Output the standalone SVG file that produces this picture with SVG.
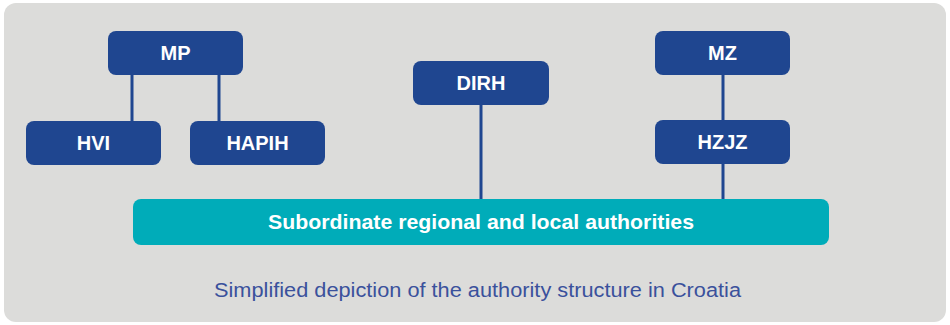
<svg xmlns="http://www.w3.org/2000/svg" width="950" height="325" viewBox="0 0 950 325">
<style>
.node rect{fill:#1f4690;}
.node text{fill:#ffffff;font-family:"Liberation Sans",Arial,sans-serif;font-weight:bold;font-size:20px;text-anchor:middle;}
.conn line{stroke:#1f4690;stroke-width:3;}
.bar rect{fill:#00acb9;}
.bar text{fill:#ffffff;font-family:"Liberation Sans",Arial,sans-serif;font-weight:bold;font-size:21px;text-anchor:middle;}
.caption{fill:#3a519c;font-family:"Liberation Sans",Arial,sans-serif;font-size:20px;text-anchor:middle;}
</style>
<rect x="0" y="0" width="950" height="325" fill="#ffffff"/>
<rect x="4" y="3" width="942" height="319" rx="12" fill="#dcdcda"/>
<g class="conn">
<line x1="132" y1="74" x2="132" y2="122"/>
<line x1="219" y1="74" x2="219" y2="122"/>
<line x1="481" y1="104" x2="481" y2="200"/>
<line x1="723" y1="74" x2="723" y2="121"/>
<line x1="723" y1="163" x2="723" y2="200"/>
</g>
<g id="MP" class="node"><rect x="108" y="31" width="135" height="44" rx="8"/><text x="175.5" y="60">MP</text></g>
<g id="HVI" class="node"><rect x="26" y="121" width="135" height="44" rx="8"/><text x="93.5" y="150">HVI</text></g>
<g id="HAPIH" class="node"><rect x="190" y="121" width="135" height="44" rx="8"/><text x="257.5" y="150">HAPIH</text></g>
<g id="DIRH" class="node"><rect x="413" y="61" width="136" height="44" rx="8"/><text x="481" y="90">DIRH</text></g>
<g id="MZ" class="node"><rect x="655" y="31" width="135" height="44" rx="8"/><text x="722.5" y="60">MZ</text></g>
<g id="HZJZ" class="node"><rect x="655" y="120" width="135" height="44" rx="8"/><text x="722.5" y="149">HZJZ</text></g>
<g id="authorities" class="bar"><rect x="133" y="199" width="696" height="46" rx="8"/><text x="481" y="229" textLength="426" lengthAdjust="spacingAndGlyphs">Subordinate regional and local authorities</text></g>
<text class="caption" x="477.5" y="297" textLength="527" lengthAdjust="spacingAndGlyphs">Simplified depiction of the authority structure in Croatia</text>
</svg>
